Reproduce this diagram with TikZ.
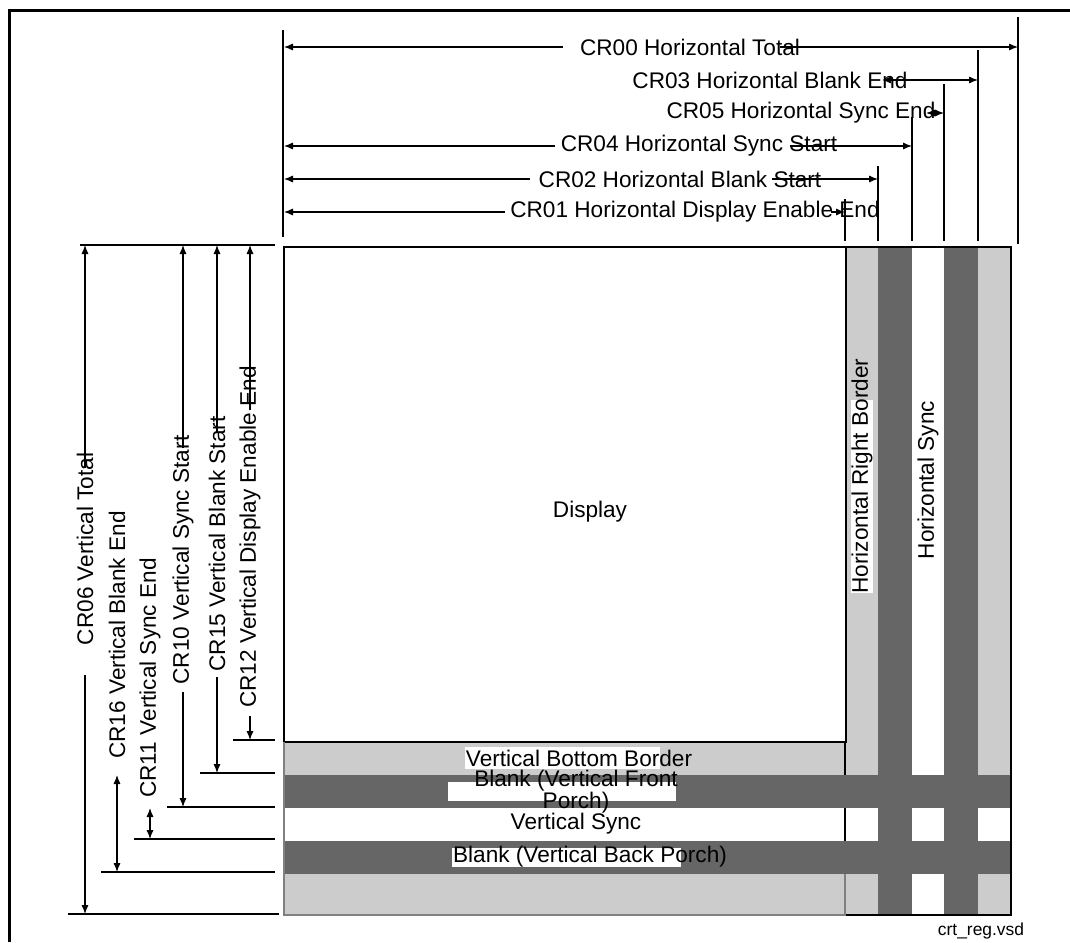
\documentclass[tikz,border=0pt]{standalone}
\usepackage{fontspec}
\setmainfont{Liberation Sans}
\usetikzlibrary{arrows.meta}

\definecolor{lightband}{HTML}{CCCCCC}
\definecolor{darkband}{HTML}{666666}

\begin{document}
\begin{tikzpicture}[
     % define styles
     x=0.5pt, y=-0.5pt,
     lbl/.style={
         font=\fontsize{11.3}{13.5}\selectfont,
         inner sep=0pt
     },
     vlbl/.style={
         lbl,
         rotate=90
     },
     ext/.style={
         line width=0.6pt
     },
     dim/.style={
         line width=0.6pt
     },
     frame/.style={
         line width=1.5pt
     },
     >={Latex[length=4.5pt,width=3.6pt]}
]
\useasboundingbox (0,0) rectangle (1070,942);

% page frame
\draw[frame] (1070,10) -- (9,10) -- (9,942);

% colour columns and bands
\fill[lightband] (845,247) rectangle (878,915);
\fill[lightband] (978,247) rectangle (1011,915);
\fill[white] (284,808) rectangle (1011,841);
\fill[darkband] (878,247) rectangle (912,915);
\fill[darkband] (944,247) rectangle (978,915);
\fill[lightband] (284,742) rectangle (846,775);
\fill[lightband] (284,874) rectangle (846,915);
\fill[darkband] (284,775) rectangle (1011,808);
\fill[darkband] (284,841) rectangle (1011,874);

% outlines
\draw[ext] (284,247) rectangle (846,742);
\draw[ext] (846,247) -- (1011,247) -- (1011,915) -- (846,915);
\draw[ext,gray] (846,915) -- (284,915) -- (284,742);
\draw[ext] (845,742) -- (845,775);
\draw[ext] (845,808) -- (845,841);
\draw[ext,gray] (845,874) -- (845,915);

% area labels
\node[lbl] (disp) at (590,512) {Display};
\fill[white] (465,747) rectangle (660,769);
\node[lbl] (vbb) at (579,758) {Vertical Bottom Border};
\fill[white] (448,782) rectangle (676,801);
\node[lbl,align=center,font=\fontsize{11.3}{11}\selectfont] (vfp) at (576,792)
    {Blank (Vertical Front\\Porch)};
\node[lbl] (vsync) at (576,824) {Vertical Sync};
\fill[white] (452,848) rectangle (681,867);
\node[lbl] (vbp) at (590,857) {Blank (Vertical Back Porch)};
\fill[white] (851,400) rectangle (873,593);
\node[vlbl] (hrb) at (862,476) {Horizontal Right Border};
\node[vlbl] (hsync) at (928,480) {Horizontal Sync};
\node[lbl,font=\fontsize{8.7}{10}\selectfont] (file) at (981,931) {crt\_reg.vsd};

% extension lines, horizontal timing
\draw[ext] (283,30) -- (283,237);
\draw[ext] (1018,17) -- (1018,244);
\foreach \x/\t in {845/199, 878/166, 912/117, 944/84, 978/50}
    \draw[ext] (\x,\t) -- (\x,241);

% extension lines, vertical timing
\draw[ext] (80,245) -- (275,245);
\foreach \y/\s in {740/233, 773/200, 807/167, 839/134, 872/101}
    \draw[ext] (\s,\y) -- (275,\y);
\draw[ext] (68,914) -- (279,914);

% horizontal timing registers
\coordinate (h00l) at (284,47);  \coordinate (h00a) at (563,47);
\coordinate (h00b) at (780,47);  \coordinate (h00r) at (1018,47);
\node[lbl] (cr00) at (690,47) {CR00 Horizontal Total};
\draw[dim,<-] (h00l) -- (h00a);
\draw[dim,->] (h00b) -- (h00r);

\coordinate (h03a) at (882,80);  \coordinate (h03r) at (978,80);
\node[lbl] (cr03) at (770,80) {CR03 Horizontal Blank End};
\draw[dim,<->] (h03a) -- (h03r);

\coordinate (h05a) at (926,113); \coordinate (h05r) at (944,113);
\node[lbl] (cr05) at (801,113) {CR05 Horizontal Sync End};
\draw[dim,<->] (h05a) -- (h05r);

\coordinate (h04l) at (284,146); \coordinate (h04a) at (555,146);
\coordinate (h04b) at (790,146); \coordinate (h04r) at (912,146);
\node[lbl] (cr04) at (699,146) {CR04 Horizontal Sync Start};
\draw[dim,<-] (h04l) -- (h04a);
\draw[dim,->] (h04b) -- (h04r);

\coordinate (h02l) at (284,179); \coordinate (h02a) at (530,179);
\coordinate (h02b) at (772,179); \coordinate (h02r) at (878,179);
\node[lbl] (cr02) at (680,179) {CR02 Horizontal Blank Start};
\draw[dim,<-] (h02l) -- (h02a);
\draw[dim,->] (h02b) -- (h02r);

\coordinate (h01l) at (284,212); \coordinate (h01a) at (505,212);
\coordinate (h01b) at (831,212); \coordinate (h01r) at (845,212);
\node[lbl] (cr01) at (695,212) {CR01 Horizontal Display Enable End};
\draw[dim,<-] (h01l) -- (h01a);
\draw[dim,->] (h01b) -- (h01r);

% vertical timing registers
\coordinate (v06t) at (85,245);  \coordinate (v06a) at (85,468);
\coordinate (v06b) at (85,675);  \coordinate (v06e) at (85,914);
\node[vlbl] (cr06) at (85,549) {CR06 Vertical Total};
\draw[dim,->] (v06a) -- (v06t);
\draw[dim,->] (v06b) -- (v06e);

\coordinate (v16t) at (117,775); \coordinate (v16e) at (117,872);
\node[vlbl] (cr16) at (117,635) {CR16 Vertical Blank End};
\draw[dim,<->] (v16t) -- (v16e);

\coordinate (v11t) at (150,808); \coordinate (v11e) at (150,839);
\node[vlbl] (cr11) at (150,678) {CR11 Vertical Sync End};
\draw[dim,<->] (v11t) -- (v11e);

\coordinate (v10t) at (183,245); \coordinate (v10a) at (183,448);
\coordinate (v10b) at (183,692); \coordinate (v10e) at (183,807);
\node[vlbl] (cr10) at (183,560) {CR10 Vertical Sync Start};
\draw[dim,->] (v10a) -- (v10t);
\draw[dim,->] (v10b) -- (v10e);

\coordinate (v15t) at (217,245); \coordinate (v15a) at (217,433);
\coordinate (v15b) at (217,677); \coordinate (v15e) at (217,773);
\node[vlbl] (cr15) at (217,544) {CR15 Vertical Blank Start};
\draw[dim,->] (v15a) -- (v15t);
\draw[dim,->] (v15b) -- (v15e);

\coordinate (v12t) at (250,245); \coordinate (v12a) at (250,410);
\coordinate (v12b) at (250,716); \coordinate (v12e) at (250,740);
\node[vlbl] (cr12) at (250,537) {CR12 Vertical Display Enable End};
\draw[dim,->] (v12a) -- (v12t);
\draw[dim,->] (v12b) -- (v12e);
\end{tikzpicture}
\end{document}
